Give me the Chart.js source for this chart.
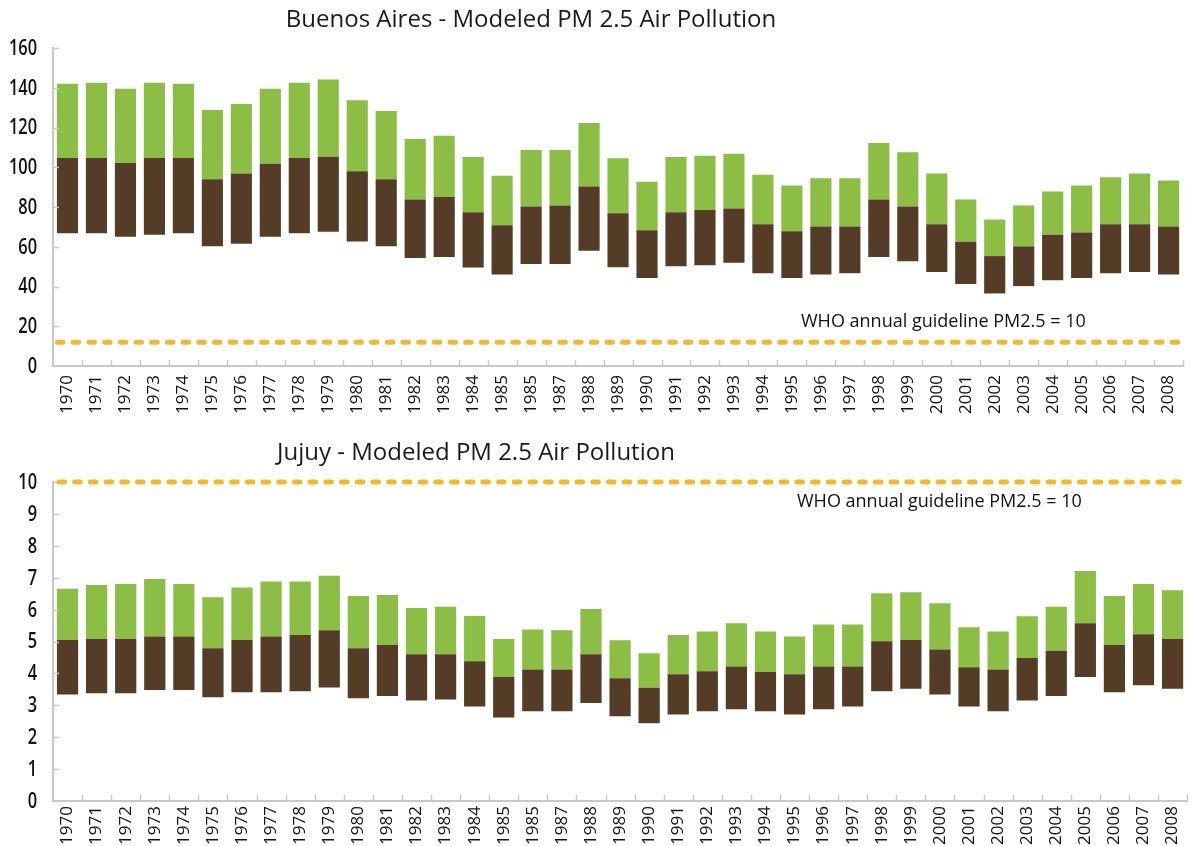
<!DOCTYPE html>
<html>
<head>
<meta charset="utf-8">
<script src="https://cdn.jsdelivr.net/npm/chart.js@4.4.1/dist/chart.umd.min.js"></script>
<style>
  html, body { margin: 0; padding: 0; background: #ffffff; }
  #page { position: relative; width: 1198px; height: 846px; overflow: hidden; background: #fff; }
  .wrap { position: absolute; left: 0; width: 1198px; }
  .title { position: absolute; left: 0; font-family: "Open Sans", sans-serif; font-size: 24px; line-height: 28px;
           color: #1a1a1a; text-align: center; white-space: nowrap; z-index: 2; }
</style>
</head>
<body>
<div id="page">
  <div class="wrap" style="top:0;height:430px;"><canvas id="ba" width="1198" height="430"></canvas></div>
  <div class="wrap" style="top:430px;height:416px;"><canvas id="ju" width="1198" height="416"></canvas></div>
  <div class="title" style="top:4px;width:1062px;">Buenos Aires - Modeled PM 2.5 Air Pollution</div>
  <div class="title" style="top:437px;width:952px;">Jujuy - Modeled PM 2.5 Air Pollution</div>
</div>
<script>
// ---------- data ----------
const years = ['1970','1971','1972','1973','1974','1975','1976','1977','1978','1979',
  '1980','1981','1982','1983','1984','1985','1985','1987','1988','1989',
  '1990','1991','1992','1993','1994','1995','1996','1997','1998','1999',
  '2000','2001','2002','2003','2004','2005','2006','2007','2008'];

// Buenos Aires: low / mid / high of modeled PM2.5
const baLow  = [66.8,66.8,65,66,66.8,60.2,61.5,65,66.8,67.5,62.7,60.2,54.3,54.8,49.5,46,51.3,51.3,58,
                49.7,44.3,50.2,50.7,52,46.7,44.3,46,46.7,54.8,52.7,47.3,41.3,36.5,40.2,43.2,44.3,46.7,47.3,46];
const baMid  = [104.7,104.7,102.2,104.7,104.7,94,96.8,101.7,104.7,105.3,98,94,83.8,85,77.3,70.8,80.3,80.8,90.3,
                76.8,68.3,77.3,78.5,79.2,71.3,67.8,70.2,70.2,83.8,80.3,71.3,62.5,55.3,60.2,66,67.2,71.3,71.3,70.2];
const baHigh = [142,142.5,139.5,142.5,142,128.8,131.8,139.5,142.5,144.2,133.7,128.3,114.2,115.8,105.2,95.7,108.7,108.7,122.3,
                104.5,92.7,105.2,105.8,106.8,96.2,90.8,94.5,94.5,112.2,107.5,96.8,83.8,73.7,80.8,87.8,90.8,95,96.8,93.3];

// Jujuy: low / mid / high
const juLow  = [3.34,3.38,3.38,3.48,3.48,3.25,3.41,3.41,3.44,3.56,3.22,3.29,3.15,3.18,2.96,2.62,2.81,2.81,3.07,
                2.66,2.44,2.71,2.81,2.88,2.81,2.71,2.88,2.96,3.44,3.52,3.34,2.96,2.81,3.15,3.29,3.89,3.41,3.63,3.52];
const juMid  = [5.05,5.08,5.08,5.16,5.16,4.79,5.05,5.16,5.2,5.35,4.79,4.89,4.6,4.6,4.38,3.89,4.12,4.12,4.6,
                3.85,3.55,3.97,4.07,4.22,4.04,3.97,4.22,4.22,5.01,5.05,4.75,4.19,4.12,4.48,4.71,5.57,4.89,5.23,5.08];
const juHigh = [6.65,6.77,6.8,6.96,6.8,6.39,6.69,6.88,6.88,7.06,6.43,6.46,6.05,6.09,5.8,5.08,5.38,5.35,6.02,
                5.04,4.63,5.2,5.31,5.57,5.31,5.16,5.53,5.53,6.51,6.54,6.2,5.45,5.31,5.79,6.09,7.21,6.43,6.8,6.61];

// axis ranges / tick steps
const baYAxis = [0, 160, 20];
const juYAxis = [0, 10, 1];

// WHO guideline line (as drawn) and its label
const guideText = 'WHO annual guideline PM2.5 = 10';
const baGuideLevel = 12;
const juGuideLevel = 10;

// ---------- styling ----------
const GREEN = '#8cbd44';
const BROWN = '#553c27';
const AXIS = '#c8c8c8';

const decor = {
  id: 'decor',
  afterDatasetsDraw(chart, args, opts) {
    const { ctx, chartArea: a, scales: { x, y } } = chart;
    ctx.save();
    // inward tick marks
    ctx.strokeStyle = AXIS; ctx.lineWidth = 1.5; ctx.lineCap = 'butt';
    const n = chart.data.labels.length;
    const cw = x.getPixelForValue(1) - x.getPixelForValue(0);
    ctx.beginPath();
    for (let i = 0; i < n; i++) {
      const bx = Math.round(x.getPixelForValue(i) + cw / 2) + 0.5;
      ctx.moveTo(bx, a.bottom); ctx.lineTo(bx, a.bottom - 6);
    }
    y.ticks.forEach(t => {
      if (t.value === y.min) return;
      const py = Math.round(y.getPixelForValue(t.value)) + 0.5;
      ctx.moveTo(a.left, py); ctx.lineTo(a.left + 6, py);
    });
    ctx.stroke();
    // y tick labels (condensed look)
    ctx.fillStyle = '#111';
    ctx.font = '600 21px "Open Sans", sans-serif';
    ctx.textAlign = 'right'; ctx.textBaseline = 'middle';
    y.ticks.forEach(t => {
      const py = y.getPixelForValue(t.value);
      ctx.save();
      ctx.translate(a.left - 16, py + 1);
      ctx.scale(0.78, 1);
      ctx.fillText(String(t.value), 0, 0);
      ctx.restore();
    });
    // guideline
    const gy = y.getPixelForValue(opts.level);
    ctx.strokeStyle = '#f4b730'; ctx.lineWidth = 5; ctx.lineCap = 'round';
    ctx.setLineDash([5.5, 10.2]);
    ctx.beginPath(); ctx.moveTo(a.left + opts.startGap, gy); ctx.lineTo(a.right, gy); ctx.stroke();
    ctx.setLineDash([]);
    // label
    ctx.fillStyle = '#111';
    ctx.font = '18px "Open Sans", sans-serif';
    ctx.textAlign = 'left'; ctx.textBaseline = 'middle';
    ctx.fillText(opts.text, opts.textX, gy + opts.dy);
    ctx.restore();
  }
};

function makeChart(id, low, mid, high, yAxis, level, padTop, xHeight, xPad, textX, dy, startGap) {
  const lowerBand = low.map((v, i) => [v, mid[i]]);
  const upperBand = mid.map((v, i) => [v, high[i]]);
  return new Chart(document.getElementById(id), {
    type: 'bar',
    data: {
      labels: years,
      datasets: [
        { data: lowerBand, backgroundColor: BROWN, grouped: false, barPercentage: 0.73, categoryPercentage: 1 },
        { data: upperBand, backgroundColor: GREEN, grouped: false, barPercentage: 0.73, categoryPercentage: 1 }
      ]
    },
    options: {
      responsive: false,
      animation: false,
      devicePixelRatio: 1,
      layout: { padding: { top: padTop, right: 1, left: 0, bottom: 0 } },
      plugins: {
        legend: { display: false },
        tooltip: { enabled: false },
        decor: { level: level, text: guideText, textX: textX, dy: dy, startGap: startGap }
      },
      scales: {
        x: {
          offset: true,
          grid: { display: true, drawOnChartArea: false, drawTicks: false },
          border: { display: true, color: AXIS, width: 2 },
          ticks: { minRotation: 90, maxRotation: 90, autoSkip: false, padding: xPad, color: '#111',
                   font: { family: '"Open Sans", sans-serif', size: 17 } },
          afterFit(s) { s.height = xHeight; }
        },
        y: {
          min: yAxis[0], max: yAxis[1],
          grid: { display: true, drawOnChartArea: false, drawTicks: false },
          border: { display: true, color: AXIS, width: 2 },
          ticks: { display: false, stepSize: yAxis[2] },
          afterFit(s) { s.width = 53; }
        }
      }
    },
    plugins: [decor]
  });
}

makeChart('ba', baLow, baMid, baHigh, baYAxis, baGuideLevel, 48, 64, 9, 801, -20, 4.5);
makeChart('ju', juLow, juMid, juHigh, juYAxis, juGuideLevel, 52, 45, 5, 797, 20, 6);
</script>
</body>
</html>
